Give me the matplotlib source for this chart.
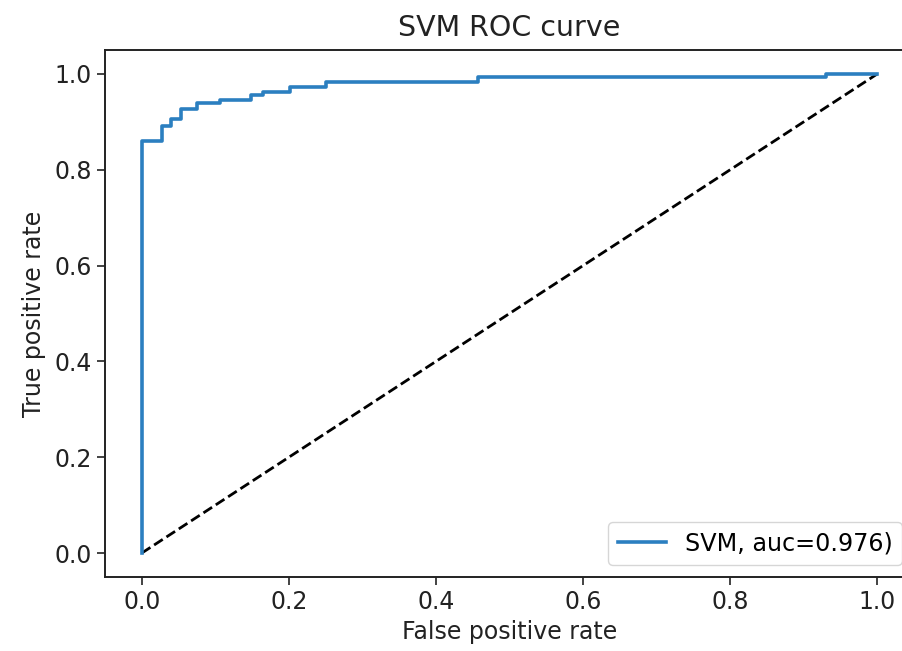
import matplotlib
matplotlib.use("Agg")
import matplotlib.pyplot as plt

# ROC curve points (fpr, tpr)
fpr = [0.0, 0.0, 0.027, 0.027, 0.040, 0.040, 0.054, 0.054, 0.075, 0.075,
       0.106, 0.106, 0.149, 0.149, 0.165, 0.165, 0.202, 0.202, 0.251, 0.251,
       0.457, 0.457, 0.930, 0.930, 1.0]
tpr = [0.0, 0.861, 0.861, 0.891, 0.891, 0.905, 0.905, 0.926, 0.926, 0.939,
       0.939, 0.946, 0.946, 0.956, 0.956, 0.963, 0.963, 0.973, 0.973, 0.983,
       0.983, 0.993, 0.993, 1.0, 1.0]
chance = [0.0, 1.0]
label = "SVM, auc=0.976)"
title = "SVM ROC curve"
xlabel = "False positive rate"
ylabel = "True positive rate"

plt.rcParams['font.family'] = ['DejaVu Sans']
fig = plt.figure(figsize=(9.03, 6.51), dpi=100)
ax = fig.add_axes([105/903, 74/651, 809/903, 527/651])

ax.plot(chance, chance, 'k--', lw=2.0)
ax.plot(fpr, tpr, color='#2b7fc0', lw=2.6, label=label)

ax.set_xlim(-0.05, 1.05)
ax.set_ylim(-0.05, 1.05)
ax.set_xticks([0.0, 0.2, 0.4, 0.6, 0.8, 1.0])
ax.set_yticks([0.0, 0.2, 0.4, 0.6, 0.8, 1.0])
ax.tick_params(labelsize=17, length=6, width=1.2, colors='#222222')
for s in ax.spines.values():
    s.set_linewidth(1.4)
    s.set_color('#222222')
ax.spines['right'].set_visible(False)

ax.set_title(title, fontsize=20.5, pad=10, color='#222222')
ax.set_xlabel(xlabel, fontsize=17, color='#222222', labelpad=4)
ax.set_ylabel(ylabel, fontsize=17, color='#222222', labelpad=6)
ax.legend(loc='lower right', fontsize=17.2)

fig.savefig("out.png", dpi=100)
